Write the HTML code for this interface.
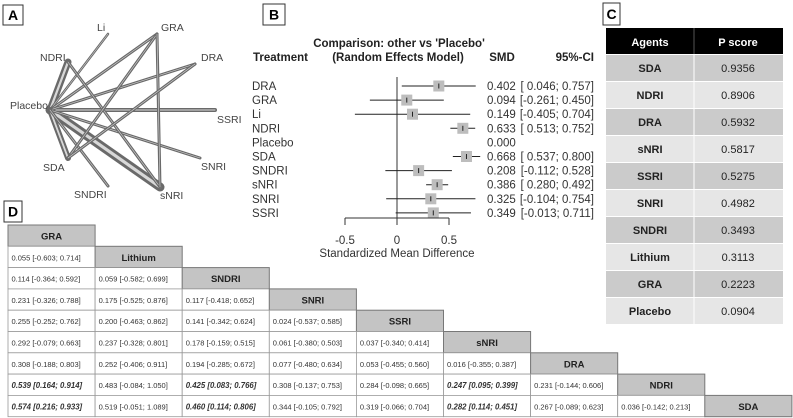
<!DOCTYPE html>
<html><head><meta charset="utf-8"><style>
body{margin:0;background:#fff;}
svg{display:block;font-family:"Liberation Sans",Arial,sans-serif;}
</style></head><body>
<svg id="fig" width="793" height="418" viewBox="0 0 793 418" xmlns="http://www.w3.org/2000/svg">
<g id="panelA"></g>
<g id="panelB"></g>
<g id="panelC"></g>
<g id="panelD"></g>
</svg>
<script>
// ---- Forest plot data ----
const treatments = ["DRA","GRA","Li","NDRI","Placebo","SDA","SNDRI","sNRI","SNRI","SSRI"];
const smd = [0.402,0.094,0.149,0.633,0.000,0.668,0.208,0.386,0.325,0.349];
const ciLow = [0.046,-0.261,-0.405,0.513,null,0.537,-0.112,0.280,-0.104,-0.013];
const ciHigh = [0.757,0.450,0.704,0.752,null,0.800,0.528,0.492,0.754,0.711];
const xTicks = [-0.5,0,0.5];
const xTickLabels = ["-0.5","0","0.5"];
// ---- P score table ----
const agents = ["SDA","NDRI","DRA","sNRI","SSRI","SNRI","SNDRI","Lithium","GRA","Placebo"];
const pscores = ["0.9356","0.8906","0.5932","0.5817","0.5275","0.4982","0.3493","0.3113","0.2223","0.0904"];
// ---- League table ----
const leagueHeads = ["GRA","Lithium","SNDRI","SNRI","SSRI","sNRI","DRA","NDRI","SDA"];
const leagueVals = [
 [],
 ["0.055 [-0.603; 0.714]"],
 ["0.114 [-0.364; 0.592]","0.059 [-0.582; 0.699]"],
 ["0.231 [-0.326; 0.788]","0.175 [-0.525; 0.876]","0.117 [-0.418; 0.652]"],
 ["0.255 [-0.252; 0.762]","0.200 [-0.463; 0.862]","0.141 [-0.342; 0.624]","0.024 [-0.537; 0.585]"],
 ["0.292 [-0.079; 0.663]","0.237 [-0.328; 0.801]","0.178 [-0.159; 0.515]","0.061 [-0.380; 0.503]","0.037 [-0.340; 0.414]"],
 ["0.308 [-0.188; 0.803]","0.252 [-0.406; 0.911]","0.194 [-0.285; 0.672]","0.077 [-0.480; 0.634]","0.053 [-0.455; 0.560]","0.016 [-0.355; 0.387]"],
 ["*0.539 [0.164; 0.914]","0.483 [-0.084; 1.050]","*0.425 [0.083; 0.766]","0.308 [-0.137; 0.753]","0.284 [-0.098; 0.665]","*0.247 [0.095; 0.399]","0.231 [-0.144; 0.606]"],
 ["*0.574 [0.216; 0.933]","0.519 [-0.051; 1.089]","*0.460 [0.114; 0.806]","0.344 [-0.105; 0.792]","0.319 [-0.066; 0.704]","*0.282 [0.114; 0.451]","0.267 [-0.089; 0.623]","0.036 [-0.142; 0.213]"]
];
// ---- Network ----
const nodeNames = ["Placebo","NDRI","Li","GRA","DRA","SSRI","SNRI","sNRI","SNDRI","SDA"];
const edgeList = [["Placebo","sNRI",8],["Placebo","NDRI",6],["Placebo","SDA",5],["Placebo","SSRI",3],["Placebo","Li",1.5],["Placebo","GRA",2],["Placebo","DRA",2],["Placebo","SNRI",2],["Placebo","SNDRI",2],["NDRI","sNRI",2],["GRA","SDA",2],["GRA","sNRI",2],["DRA","SDA",2]];

const NS="http://www.w3.org/2000/svg";
function mk(tag,attrs,parent,text){const e=document.createElementNS(NS,tag);for(const k in attrs)e.setAttribute(k,attrs[k]);if(text!==undefined)e.textContent=text;parent.appendChild(e);return e;}
function labelBox(p,x,y,w,h,t){const b=mk('rect',{x:x,y:y,width:w,height:h,fill:'#fff',stroke:'#333','stroke-width':1},p);
 const tx=mk('text',{x:x+w/2,y:y+h/2+5,'text-anchor':'middle','font-size':14,'font-weight':'bold'},p,t);}

// Panel A
const A=document.getElementById('panelA');
labelBox(A,3,5,20,20,'A');
const nodePos={Placebo:[50,110],NDRI:[68,62],Li:[108,34],GRA:[157,34],DRA:[195,64],SSRI:[215,110],SNRI:[200,158],sNRI:[160,187],SNDRI:[108,186],SDA:[68,158]};
edgeList.forEach(e=>{const a=nodePos[e[0]],b=nodePos[e[1]];
 const o=mk('line',{x1:a[0],y1:a[1],x2:b[0],y2:b[1],stroke:'#6a6a6a','stroke-width':e[2]+1,'stroke-linecap':'round'},A);
 
 const i=mk('line',{x1:a[0],y1:a[1],x2:b[0],y2:b[1],stroke:'#d8d8d8','stroke-width':Math.max(0.6,(e[2]-1)*0.45),'stroke-linecap':'round'},A);
 });
const nodeLabels={Placebo:[10,109,'start'],NDRI:[40,61,'start'],Li:[97,31,'start'],GRA:[161,31,'start'],DRA:[201,61,'start'],SSRI:[217,123,'start'],SNRI:[201,170,'start'],sNRI:[160,199,'start'],SNDRI:[74,198,'start'],SDA:[43,171,'start']};
nodeNames.forEach(n=>{const l=nodeLabels[n];const t=mk('text',{x:l[0],y:l[1],'font-size':10.5,fill:'#444','text-anchor':l[2]},A,n);});

// Panel B
const B=document.getElementById('panelB');
labelBox(B,263,4,22,21,'B');
const xs=v=>397+v*104;
const rowY=i=>86+i*14.1;
[['Comparison: other vs \'Placebo\'',399,47,'middle'],['(Random Effects Model)',398,61,'middle'],['Treatment',253,61,'start'],['SMD',502,61,'middle'],['95%-CI',594,61,'end']].forEach(h=>{
 const t=mk('text',{x:h[1],y:h[2],'font-size':11.5,'font-weight':'bold','text-anchor':h[3],fill:'#222'},B,h[0]);});
const zl=mk('line',{x1:xs(0),y1:77,x2:xs(0),y2:218,stroke:'#333','stroke-width':1},B);
treatments.forEach((t,i)=>{const y=rowY(i);
 const lb=mk('text',{x:252,y:y+4,'font-size':11.5,fill:'#333'},B,t);
 const v=mk('text',{x:487,y:y+4,'font-size':11.5,fill:'#333'},B,smd[i].toFixed(3));
 if(ciLow[i]!==null){
  const c=mk('text',{x:594,y:y+4,'font-size':11.5,fill:'#333','text-anchor':'end'},B,'['+(ciLow[i]<0?'':' ')+ciLow[i].toFixed(3)+'; '+ciHigh[i].toFixed(3)+']');
  const ln=mk('line',{x1:xs(ciLow[i]),y1:y,x2:xs(ciHigh[i]),y2:y,stroke:'#222','stroke-width':1},B);
  const sq=mk('rect',{x:xs(smd[i])-5.5,y:y-5.5,width:11,height:11,fill:'#bdbdbd'},B);
  const tk=mk('line',{x1:xs(smd[i]),y1:y-2.5,x2:xs(smd[i]),y2:y+2.5,stroke:'#222','stroke-width':1},B);
 }});
const ax=mk('line',{x1:xs(xTicks[0]),y1:218,x2:xs(xTicks[xTicks.length-1]),y2:218,stroke:'#333','stroke-width':1},B);
xTicks.forEach((v,i)=>{const tl=mk('line',{x1:xs(v),y1:218,x2:xs(v),y2:225,stroke:'#333'},B);
 const tt=mk('text',{x:xs(v),y:244,'font-size':11.5,'text-anchor':'middle',fill:'#333'},B,xTickLabels[i]);});
const xt=mk('text',{x:397,y:257,'font-size':11.5,'text-anchor':'middle',fill:'#333'},B,'Standardized Mean Difference');

// Panel C
const C=document.getElementById('panelC');
labelBox(C,603,3,17,22,'C');
const hb=mk('rect',{x:606,y:28,width:177,height:26,fill:'#000'},C);
mk('line',{x1:694,y1:28,x2:694,y2:54,stroke:'#555'},C);
[['Agents',650],['P score',738]].forEach(h=>{const t=mk('text',{x:h[1],y:46,'font-size':11,'font-weight':'bold',fill:'#fff','text-anchor':'middle'},C,h[0]);});
agents.forEach((a,i)=>{const y=55+i*27;
 const r=mk('rect',{x:606,y:y,width:177,height:26,fill:i%2?'#e6e6e6':'#cbcbcb'},C);
 mk('line',{x1:694,y1:y,x2:694,y2:y+26,stroke:'#fff'},C);
 const t1=mk('text',{x:650,y:y+17,'font-size':11,'font-weight':'bold',fill:'#222','text-anchor':'middle'},C,a);
 const t2=mk('text',{x:738,y:y+17,'font-size':11,fill:'#222','text-anchor':'middle'},C,pscores[i]);});

// Panel D
const D=document.getElementById('panelD');
labelBox(D,4,201,18,21,'D');
const cw=87.1,rh=21.3,x0=8,y0=225;
leagueVals.forEach((row,i)=>{const y=y0+i*rh;
 row.forEach((v,j)=>{const x=x0+j*cw;
  const r=mk('rect',{x:x,y:y,width:cw,height:rh,fill:'#fff',stroke:'#999','stroke-width':0.8},D);
  const bold=v[0]==='*';const s=bold?v.slice(1):v;
  const t=mk('text',{x:x+3.5,y:y+14,'font-size':bold?7.8:7.5,fill:'#333','font-weight':bold?'bold':'normal','font-style':bold?'italic':'normal'},D,s);});
 const x=x0+i*cw;
 const h=mk('rect',{x:x,y:y,width:cw,height:rh,fill:'#c4c4c4',stroke:'#777','stroke-width':1},D);
 const ht=mk('text',{x:x+cw/2,y:y+14.5,'font-size':9.5,'font-weight':'bold',fill:'#222','text-anchor':'middle'},D,leagueHeads[i]);
});
</script>
</body></html>
